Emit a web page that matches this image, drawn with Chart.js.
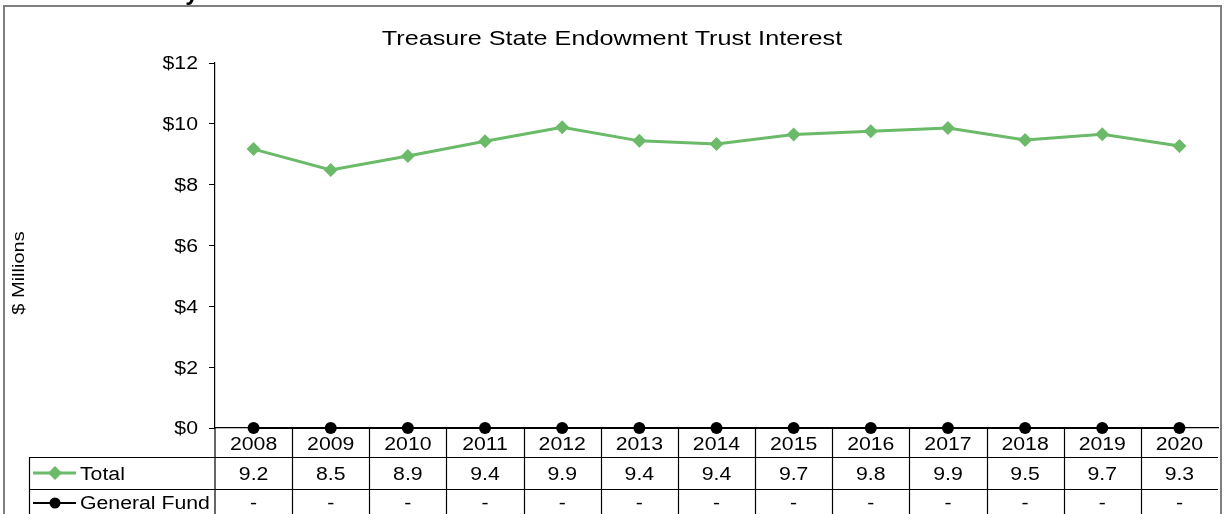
<!DOCTYPE html>
<html>
<head>
<meta charset="utf-8">
<style>html,body{margin:0;padding:0;background:#fff;overflow:hidden}</style>
<script src="https://cdn.jsdelivr.net/npm/chart.js@4.4.0/dist/chart.umd.min.js"></script>
</head>
<body>
<canvas id="c" width="1225" height="514"></canvas>
<script>
const chartTitle = 'Treasure State Endowment Trust Interest';
const yAxisTitle = '$ Millions';
const categories = ['2008','2009','2010','2011','2012','2013','2014','2015','2016','2017','2018','2019','2020'];
const totalValues = [9.17, 8.48, 8.94, 9.43, 9.89, 9.44, 9.34, 9.65, 9.76, 9.86, 9.47, 9.66, 9.27];
const generalFundValues = [0, 0, 0, 0, 0, 0, 0, 0, 0, 0, 0, 0, 0];
const totalLabels = ['9.2','8.5','8.9','9.4','9.9','9.4','9.4','9.7','9.8','9.9','9.5','9.7','9.3'];
const generalFundLabels = ['-','-','-','-','-','-','-','-','-','-','-','-','-'];
const seriesNames = ['Total', 'General Fund'];
const yMin = 0, yMax = 12, yStep = 2;

const GREEN = '#6ABA6A';
const FONT = '"Liberation Sans", Arial, sans-serif';
const FS = 18, SX = 1.18;

function drawText(ctx, s, x, y, size, align, sx) {
  ctx.save();
  ctx.font = size + 'px ' + FONT;
  ctx.fillStyle = '#000';
  ctx.textAlign = align;
  ctx.textBaseline = 'alphabetic';
  ctx.translate(x, y);
  ctx.scale(sx, 1);
  ctx.fillText(s, 0, size * 0.716 / 2);
  ctx.restore();
}
function line(ctx, x1, y1, x2, y2) {
  ctx.beginPath(); ctx.moveTo(x1, y1); ctx.lineTo(x2, y2); ctx.stroke();
}

const tablePlugin = {
  id: 'tablePlugin',
  beforeDraw(chart) {
    const ctx = chart.ctx;
    ctx.save(); ctx.fillStyle = '#fff'; ctx.fillRect(0, 0, chart.width, chart.height); ctx.restore();
  },
  afterDraw(chart) {
    const ctx = chart.ctx;
    const a = chart.chartArea;
    const xs = chart.scales.x, ys = chart.scales.y;
    const n = categories.length;
    const rowTop = a.bottom, r1 = 457.5, r2 = 489.5, bottom = chart.height;

    // title
    drawText(ctx, chartTitle, 612, 37.5, 21, 'center', 1.2);
    // y axis title
    ctx.save();
    ctx.translate(18, 273);
    ctx.rotate(-Math.PI / 2);
    ctx.scale(SX, 1);
    ctx.font = '17px ' + FONT; ctx.fillStyle = '#000'; ctx.textAlign = 'center'; ctx.textBaseline = 'alphabetic';
    ctx.fillText(yAxisTitle, 0, 17 * 0.716 / 2);
    ctx.restore();
    // y tick labels
    ys.ticks.forEach(t => {
      const py = ys.getPixelForValue(t.value);
      drawText(ctx, '$' + t.value, 198, py, FS, 'right', SX);
    });

    // table grid
    ctx.save();
    ctx.strokeStyle = '#000'; ctx.lineWidth = 1.2;
    line(ctx, 29, r1, a.right, r1);
    line(ctx, 29, r2, a.right, r2);
    line(ctx, 29.5, r1, 29.5, bottom);
    line(ctx, a.left, rowTop, a.left, bottom);
    for (let i = 0; i < n - 1; i++) {
      const bx = Math.round((xs.getPixelForValue(i) + xs.getPixelForValue(i + 1)) / 2) + 0.5;
      line(ctx, bx, rowTop, bx, bottom);
    }
    ctx.restore();

    for (let i = 0; i < n; i++) {
      const cx = xs.getPixelForValue(i);
      drawText(ctx, categories[i], cx, 443.3, FS, 'center', SX);
      drawText(ctx, totalLabels[i], cx, 473.5, FS, 'center', SX);
      drawText(ctx, generalFundLabels[i], cx, 503, FS, 'center', SX);
    }

    // legend keys
    ctx.save();
    ctx.strokeStyle = GREEN; ctx.lineWidth = 3;
    line(ctx, 33, 473, 76, 473);
    ctx.fillStyle = GREEN;
    ctx.beginPath(); ctx.moveTo(55, 466); ctx.lineTo(62, 473); ctx.lineTo(55, 480); ctx.lineTo(48, 473); ctx.closePath(); ctx.fill();
    ctx.strokeStyle = '#000'; ctx.lineWidth = 2;
    line(ctx, 33, 503, 76, 503);
    ctx.fillStyle = '#000';
    ctx.beginPath(); ctx.arc(55, 503, 5.5, 0, Math.PI * 2); ctx.fill();
    ctx.restore();
    drawText(ctx, seriesNames[0], 80, 473.5, FS, 'left', SX);
    drawText(ctx, seriesNames[1], 80, 503, FS, 'left', SX);

    // clipped heading fragment at top
    ctx.save();
    ctx.font = 'bold 24px ' + FONT; ctx.fillStyle = '#000'; ctx.textAlign = 'center'; ctx.textBaseline = 'alphabetic';
    ctx.fillText('y', 192, 0);
    ctx.restore();

    // outer frame
    ctx.save();
    ctx.strokeStyle = '#7f7f7f'; ctx.lineWidth = 2;
    line(ctx, 3, 6, 1222, 6);
    line(ctx, 4, 6, 4, bottom + 2);
    line(ctx, 1221, 6, 1221, bottom + 2);
    ctx.restore();
  }
};

new Chart(document.getElementById('c'), {
  type: 'line',
  data: {
    labels: categories,
    datasets: [
      {
        label: seriesNames[1], data: generalFundValues,
        borderColor: '#000', backgroundColor: '#000', borderWidth: 2,
        pointStyle: 'circle', pointRadius: 6, pointHoverRadius: 6, pointBorderWidth: 0,
        tension: 0, clip: false
      },
      {
        label: seriesNames[0], data: totalValues,
        borderColor: GREEN, backgroundColor: GREEN, borderWidth: 3,
        pointStyle: 'rectRot', pointRadius: 7, pointHoverRadius: 7, pointBorderWidth: 0,
        tension: 0, clip: false
      }
    ]
  },
  options: {
    responsive: false,
    animation: false,
    events: [],
    layout: { padding: { top: 63, left: 0, right: 3, bottom: 0 } },
    plugins: { legend: { display: false }, title: { display: false }, tooltip: { enabled: false } },
    scales: {
      x: {
        type: 'category', offset: true,
        grid: { display: false },
        ticks: { display: false },
        border: { display: true, color: '#000', width: 1.2 },
        afterFit(s) { s.height = 86; }
      },
      y: {
        min: yMin, max: yMax,
        ticks: { stepSize: yStep, display: false },
        grid: { display: true, drawOnChartArea: false, drawTicks: true, tickLength: 6, color: '#000', lineWidth: 1 },
        border: { display: true, color: '#000', width: 1.2 },
        afterFit(s) { s.width = 215; }
      }
    }
  },
  plugins: [tablePlugin]
});
</script>
</body>
</html>
